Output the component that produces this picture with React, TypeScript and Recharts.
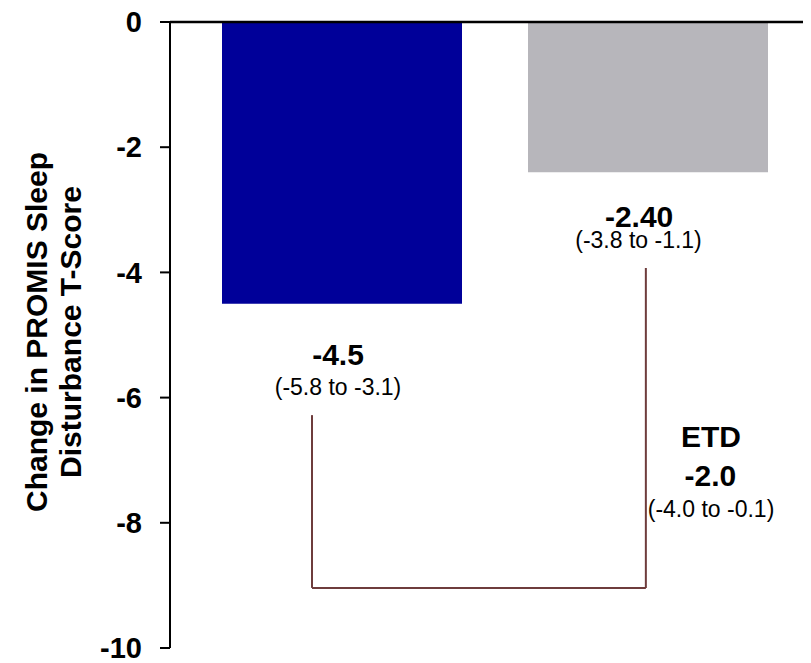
import { BarChart, Bar, Cell, XAxis, YAxis, ReferenceLine, ReferenceDot } from "recharts";

// groups and their mean change
const groups = ["Treatment", "Control"];
const changes = [-4.5, -2.4];
const valueLabels = ["-4.5", "-2.40"];
const ciLabels = ["(-5.8 to -3.1)", "(-3.8 to -1.1)"];
const barColors = ["#000099", "#b7b6bb"];

// estimated treatment difference
const etdTitle = "ETD";
const etdValue = "-2.0";
const etdCi = "(-4.0 to -0.1)";

const yTicks = [0, -2, -4, -6, -8, -10];

const data = groups.map((g, i) => ({ group: g, change: changes[i], pos: i + 0.5 }));

// annotation placement, in (pos axis, value) units
const notes = [
  { x: 0.487, y: -5.48, text: valueLabels[0], bold: true },
  { x: 0.487, y: -5.96, text: ciLabels[0], bold: false },
  { x: 1.471, y: -3.27, text: valueLabels[1], bold: true },
  { x: 1.469, y: -3.61, text: ciLabels[1], bold: false },
  { x: 1.706, y: -6.79, text: etdTitle, bold: true },
  { x: 1.704, y: -7.41, text: etdValue, bold: true },
  { x: 1.706, y: -7.91, text: etdCi, bold: false },
];

const bracket = {
  left: 0.402,
  right: 1.493,
  leftTop: -6.28,
  rightTop: -3.93,
  bottom: -9.04,
};

const FONT = "'Liberation Sans', Arial, Helvetica, sans-serif";
const BRACKET = "#6e3c3c";

function AxisTitle(props: any) {
  const vb = props.viewBox || { x: 0, y: 0, width: 0, height: 0 };
  const cy = vb.y + vb.height / 2 - 3;
  const lines = [
    { x: vb.x + 39, text: "Change in PROMIS Sleep" },
    { x: vb.x + 73, text: "Disturbance T-Score" },
  ];
  return (
    <g>
      {lines.map((l) => (
        <text
          key={l.text}
          x={l.x}
          y={cy}
          transform={`rotate(-90 ${l.x} ${cy})`}
          textAnchor="middle"
          fontFamily={FONT}
          fontWeight="bold"
          fontSize={30}
          fill="#000"
        >
          {l.text}
        </text>
      ))}
    </g>
  );
}

export default function App() {
  return (
    <BarChart
      width={803}
      height={655}
      data={data}
      margin={{ top: 14, right: 0, bottom: 15, left: 0 }}
      style={{ fontFamily: FONT }}
    >
      <XAxis dataKey="group" hide padding={{ left: 19, right: 10 }} />
      <XAxis
        xAxisId="pos"
        dataKey="pos"
        type="number"
        domain={[0, 2]}
        allowDataOverflow
        hide
        padding={{ left: 19, right: 10 }}
      />
      <YAxis
        width={162}
        domain={[-10, 0]}
        ticks={yTicks}
        interval={0}
        tickSize={10}
        tickMargin={18}
        axisLine={{ stroke: "#000", strokeWidth: 2 }}
        tickLine={{ stroke: "#000", strokeWidth: 2 }}
        tick={{ fill: "#000", fontSize: 29, fontWeight: "bold", fontFamily: FONT }}
        label={<AxisTitle />}
      />
      <Bar dataKey="change" barSize={240} isAnimationActive={false}>
        {data.map((d, i) => (
          <Cell key={d.group} fill={barColors[i]} />
        ))}
      </Bar>
      <ReferenceLine y={0} stroke="#000" strokeWidth={2.5} />
      <ReferenceLine
        xAxisId="pos"
        stroke={BRACKET}
        strokeWidth={2}
        ifOverflow="visible"
        segment={[
          { x: bracket.left, y: bracket.leftTop },
          { x: bracket.left, y: bracket.bottom },
        ]}
      />
      <ReferenceLine
        xAxisId="pos"
        stroke={BRACKET}
        strokeWidth={2}
        ifOverflow="visible"
        segment={[
          { x: bracket.left, y: bracket.bottom },
          { x: bracket.right, y: bracket.bottom },
        ]}
      />
      <ReferenceLine
        xAxisId="pos"
        stroke={BRACKET}
        strokeWidth={2}
        ifOverflow="visible"
        segment={[
          { x: bracket.right, y: bracket.bottom },
          { x: bracket.right, y: bracket.rightTop },
        ]}
      />
      {notes.map((n) => (
        <ReferenceDot
          key={n.text + n.y}
          xAxisId="pos"
          x={n.x}
          y={n.y}
          r={0}
          ifOverflow="visible"
          shape={(p: any) => (
            <text
              x={p.cx}
              y={p.cy}
              textAnchor="middle"
              fontFamily={FONT}
              fontWeight={n.bold ? "bold" : "normal"}
              fontSize={n.bold ? 30 : 23}
              fill="#000"
            >
              {n.text}
            </text>
          )}
        />
      ))}
    </BarChart>
  );
}
